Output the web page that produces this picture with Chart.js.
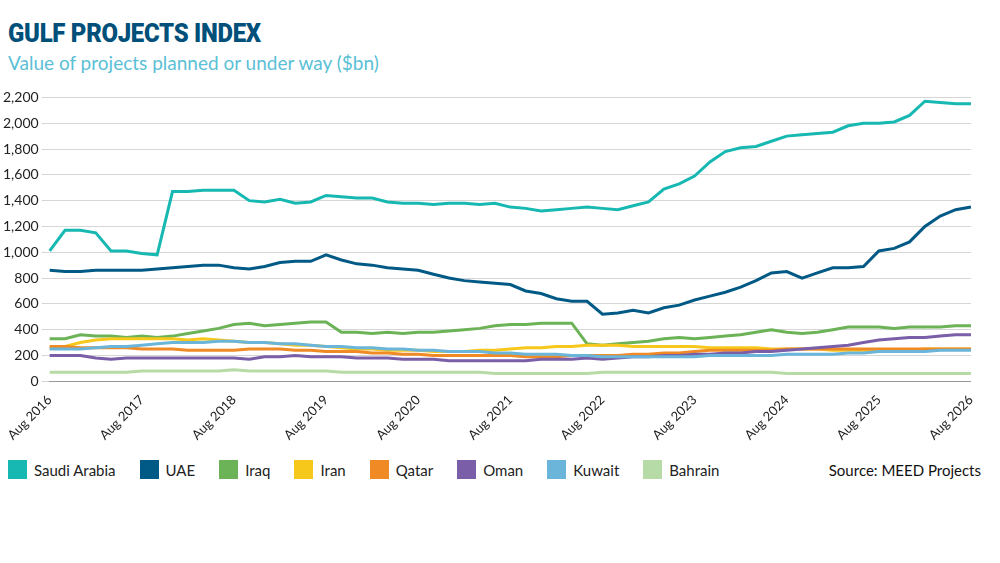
<!DOCTYPE html>
<html><head><meta charset="utf-8">
<script src="https://cdn.jsdelivr.net/npm/chart.js@4"></script>
<style>
  body { margin:0; width:1000px; height:563px; background:#fff; font-family:'Open Sans',sans-serif; position:relative; overflow:hidden; }
  h1 { position:absolute; left:8px; top:18px; margin:0; font-family:'Roboto',sans-serif; font-weight:900; font-size:26px; color:#00507a; letter-spacing:-0.3px; transform:scaleX(0.92); transform-origin:left; }
  .sub { position:absolute; left:8px; top:51px; font-size:19px; color:#5bbfd6; font-family:'Lato',sans-serif; }
  #wrap { position:absolute; left:0; top:86px; width:985px; height:360px; }
  .legend { position:absolute; left:8px; top:460px; display:flex; font-size:15px; color:#222; font-family:'Lato',sans-serif; }
  .legend span { display:flex; align-items:center; margin-right:24px; }
  .legend i { display:inline-block; width:19px; height:19px; margin-right:7px; }
  .src { position:absolute; right:19px; top:461px; font-size:15px; color:#111; font-family:'Lato',sans-serif; }
</style></head><body>
<h1>GULF PROJECTS INDEX</h1>
<div class="sub">Value of projects planned or under way ($bn)</div>
<div id="wrap"><canvas id="c"></canvas></div>
<div class="legend" id="legend"></div>
<div class="src">Source: MEED Projects</div>
<script>
// ── Data: bi-monthly readings, Aug 2016 – Aug 2026 ─────────────────────────
const months = ['Aug','Oct','Dec','Feb','Apr','Jun']
const labels = []
for (let i = 0; i < 61; i++) {
  labels.push(months[i % 6] + ' ' + (2016 + Math.floor(i / 6) + (i % 6 >= 3 ? 1 : 0)))
}

const saudi = [1010,1170,1170,1150,1010,1010, 990,980,1470,1470,1480,1480, 1480,1400,1390,1410,1380,1390,
  1440,1430,1420,1420,1390,1380, 1380,1370,1380,1380,1370,1380, 1350,1340,1320,1330,1340,1350,
  1340,1330,1360,1390,1490,1530, 1590,1700,1780,1810,1820,1860, 1900,1910,1920,1930,1980,2000,
  2000,2010,2060,2170,2160,2150,2150]
const uae = [860,850,850,860,860,860, 860,870,880,890,900,900, 880,870,890,920,930,930,
  980,940,910,900,880,870, 860,830,800,780,770,760, 750,700,680,640,620,620,
  520,530,550,530,570,590, 630,660,690,730,780,840, 850,800,840,880,880,890,
  1010,1030,1080,1200,1280,1330,1350]
const iraq = [330,330,360,350,350,340, 350,340,350,370,390,410, 440,450,430,440,450,460,
  460,380,380,370,380,370, 380,380,390,400,410,430, 440,440,450,450,450,290,
  280,290,300,310,330,340, 330,340,350,360,380,400, 380,370,380,400,420,420,
  420,410,420,420,420,430,430]
const iran = [260,270,300,320,330,330, 330,330,330,320,330,320, 310,300,300,290,280,280,
  270,260,250,250,240,240, 240,230,230,230,240,240, 250,260,260,270,270,280,
  280,280,270,270,270,270, 270,260,260,260,260,250, 250,250,250,240,240,240,
  240,240,240,250,250,250,250]
const qatar = [270,270,260,260,260,260, 250,250,250,240,240,240, 240,250,250,250,240,240,
  230,230,230,220,220,210, 210,200,200,200,200,200, 200,190,190,190,200,200,
  200,200,210,210,220,220, 230,240,240,240,240,240, 250,250,250,250,250,250,
  250,250,250,250,250,250,250]
const oman = [200,200,200,180,170,180, 180,180,180,180,180,180, 180,170,190,190,200,190,
  190,190,180,180,180,170, 170,170,160,160,160,160, 160,160,170,170,170,180,
  170,180,190,190,200,200, 210,210,220,220,230,230, 240,250,260,270,280,300,
  320,330,340,340,350,360,360]
const kuwait = [250,250,250,260,270,270, 280,290,300,300,300,310, 310,300,300,290,290,280,
  270,270,260,260,250,250, 240,240,230,230,230,220, 220,210,210,210,200,200,
  190,190,190,190,190,190, 190,200,200,200,200,200, 210,210,210,210,220,220,
  230,230,230,230,240,240,240]
const bahrain = [70,70,70,70,70,70, 80,80,80,80,80,80, 90,80,80,80,80,80,
  80,70,70,70,70,70, 70,70,70,70,70,60, 60,60,60,60,60,60,
  70,70,70,70,70,70, 70,70,70,70,70,70, 60,60,60,60,60,60,
  60,60,60,60,60,60,60]

const seriesNames = ['Saudi Arabia','UAE','Iraq','Iran','Qatar','Oman','Kuwait','Bahrain']
const seriesData  = [saudi, uae, iraq, iran, qatar, oman, kuwait, bahrain]
const colors = ['#17b8b2','#005a85','#6cb256','#f7c81c','#ef8a25','#7a5fa8','#6ab5d9','#b7dba7']

// ── Legend ─────────────────────────────────────────────────────────────────
document.getElementById('legend').innerHTML = seriesNames
  .map((n, i) => `<span><i style="background:${colors[i]}"></i>${n}</span>`).join('')

// ── Chart ──────────────────────────────────────────────────────────────────
Chart.defaults.font.family = "'Lato', sans-serif"
new Chart(document.getElementById('c'), {
  type: 'line',
  data: {
    labels,
    datasets: seriesData.map((d, i) => ({
      label: seriesNames[i], data: d, borderColor: colors[i],
      borderWidth: 3, pointRadius: 0, tension: 0, order: 7 - i,
    })).reverse(),
  },
  options: {
    responsive: true, maintainAspectRatio: false, animation: false,
    layout: { padding: { left: 0, right: 14, top: 0 } },
    plugins: { legend: { display: false }, tooltip: { enabled: false } },
    scales: {
      x: {
        grid: { display: false },
        border: { color: '#999' },
        ticks: {
          autoSkip: false, maxRotation: 45, minRotation: 45, color: '#222', font: { size: 13 },
          callback: (v, i) => i % 6 === 0 ? labels[i] : '',
        },
      },
      y: {
        min: 0, max: 2200,
        grid: { color: '#d6d6d6' },
        border: { display: false },
        ticks: { stepSize: 200, color: '#222', font: { size: 14 },
          callback: v => v.toLocaleString('en-US') },
      },
    },
  },
})
</script>
</body></html>
